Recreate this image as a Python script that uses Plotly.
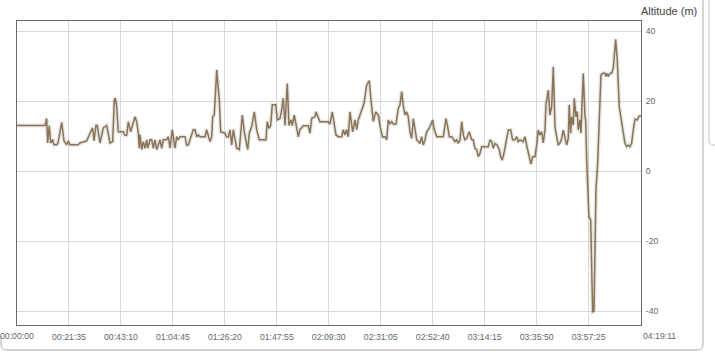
import plotly.graph_objects as go

# ---- data ----
elapsed_s = [
    0, 698, 740, 765, 805, 840, 890, 922, 989, 1022, 1114, 1171, 1239, 1278, 1321, 1520, 1570, 1737,
    1819, 1886, 1919, 1969, 2001, 2068, 2151, 2235, 2318, 2385, 2425, 2450, 2485, 2524, 2649, 2691,
    2734, 2774, 2833, 2873, 2941, 2983, 3023, 3048, 3065, 3108, 3147, 3190, 3232, 3257, 3314, 3357,
    3397, 3439, 3481, 3564, 3606, 3646, 3730, 3770, 3813, 3870, 3937, 3980, 4020, 4062, 4187, 4229,
    4269, 4311, 4393, 4436, 4478, 4518, 4560, 4685, 4727, 4810, 4852, 4877, 4917, 4977, 5041, 5076,
    5183, 5226, 5266, 5308, 5350, 5390, 5433, 5475, 5540, 5615, 5664, 5707, 5749, 5789, 5849, 5914,
    5973, 6038, 6205, 6237, 6280, 6322, 6362, 6447, 6487, 6554, 6596, 6636, 6679, 6736, 6778, 6828,
    6861, 6910, 6970, 7010, 7052, 7135, 7259, 7302, 7344, 7426, 7451, 7508, 7551, 7758, 7800, 7857,
    7907, 7949, 8007, 8092, 8131, 8174, 8216, 8256, 8298, 8366, 8423, 8465, 8505, 8548, 8590, 8647,
    8715, 8779, 8822, 8879, 8939, 9004, 9046, 9113, 9171, 9213, 9253, 9295, 9338, 9378, 9445, 9502,
    9544, 9587, 9627, 9669, 9711, 9751, 9794, 9836, 9876, 9918, 9961, 10000, 10043, 10085, 10125,
    10167, 10210, 10274, 10309, 10359, 10392, 10459, 10623, 10691, 10733, 10773, 10833, 10873, 10915,
    10957, 10997, 11040, 11082, 11122, 11164, 11207, 11271, 11331, 11371, 11413, 11456, 11496, 11538,
    11580, 11745, 11787, 11829, 11869, 11912, 11969, 12019, 12054, 12094, 12143, 12186, 12243, 12303,
    12353, 12410, 12453, 12492, 12535, 12617, 12659, 12717, 12767, 12809, 12851, 12909, 12951, 12991,
    13033, 13076, 13115, 13158, 13182, 13240, 13282, 13325, 13365, 13407, 13449, 13489, 13532, 13574,
    13614, 13656, 13699, 13738, 13763, 13798, 13823, 13863, 13888, 13930, 13963, 13988, 14030, 14055,
    14087, 14112, 14155, 14172, 14197, 14222, 14254, 14297, 14322, 14346, 14379, 14404, 14429, 14471,
    14511, 14553, 14596, 14653, 14678, 14710, 14735, 14778, 14820, 14860, 14920, 14959, 15009, 15069,
    15109, 15151, 15194, 15234, 15276, 15318, 15358, 15400, 15458, 15500, 15551,
]
altitude_m = [
    13, 13, 15, 8, 13, 8, 9, 7.5, 7.5, 8, 13.9, 8.6, 7.5, 8.6, 7.5, 7.5, 8, 8.6,
    10.8, 12.3, 8.6, 13, 13, 8, 12.3, 13, 8, 8.4, 20.3, 20.8, 18.4, 11.2, 11.2, 10.2,
    10.2, 14.1, 11.2, 13, 15.5, 14.1, 10.8, 6.5, 10.4, 6.1, 8.4, 6.5, 8.9, 6.5, 8.9, 8.9,
    6.5, 8.9, 6.1, 8.9, 6.5, 8.9, 8.9, 9.8, 6.5, 11.8, 6.5, 9.8, 8.9, 9.8, 9.8, 7.4,
    7.4, 8.9, 11.8, 11.8, 9.8, 10.3, 9.8, 9.8, 11.8, 8.4, 9.8, 15.5, 16, 28.9, 20.3, 11.2,
    10.8, 9.7, 9.7, 11.8, 7.4, 11.8, 8.9, 6.5, 6.1, 16, 11.2, 7.9, 6.1, 10.8, 12.7, 16.9,
    11.8, 8.9, 8.9, 14.1, 12.2, 13, 18.9, 18.9, 14.6, 15, 17.4, 20.8, 13, 25, 13, 14.6,
    13, 16, 11.8, 9.8, 11.8, 12.9, 12.9, 10.8, 15, 15.5, 16.9, 15, 14.1, 14.1, 13.4, 16.9,
    13.4, 10.3, 9.8, 9.8, 11.8, 10.3, 11.8, 9.8, 16.9, 11.2, 14.6, 11.8, 14.6, 16, 17.9, 19.3,
    24.6, 25.8, 20.3, 14.1, 16.9, 16, 12.9, 9.7, 9.8, 8.9, 14.6, 13.4, 14.1, 13.4, 13.4, 17.9,
    18.9, 22.7, 18.6, 16, 16.9, 15.5, 11.2, 9.3, 15, 11.8, 8.9, 8.4, 7.9, 9.8, 7.4,
    8.9, 11.2, 12.2, 13, 14.6, 12.2, 9.8, 9.8, 15, 12.7, 9.8, 9.8, 8.9, 8.4,
    8.9, 7.9, 8.9, 14.1, 10.3, 8.9, 9.3, 11.2, 8.9, 8.9, 6.5, 6.1, 4.1, 5,
    6.9, 6.9, 8.9, 8.4, 6.5, 7.9, 7.4, 6.1, 4.1, 3.1, 5.5, 7.9, 11.7, 11.7,
    8.9, 8.9, 9.8, 8.4, 8.9, 8.4, 9.8, 6.5, 4.1, 2, 4.1, 4.1, 7.4, 11.7,
    10.3, 11.2, 8, 11.7, 18.9, 23.1, 16, 18.4, 29.8, 12.7, 9.8, 7.4, 8, 9.3,
    11.7, 9.3, 7.4, 9.3, 18.9, 10.8, 15.5, 13.1, 20.8, 15.5, 17, 11.7, 14.6, 10.8,
    19.3, 27.9, 15.5, 14.6, 3.1, -5.4, -13, -14, -30.2, -40.2, -40, -23.5, -5.4, 2.2,
    17.4, 27.4, 27.9, 27.9, 27, 27.9, 27, 27.9, 27.9, 29.4, 37.6, 31.7, 18.4, 13.6,
    11.1, 7.9, 7, 7.4, 7, 7.9, 11.7, 14.8, 14.6, 15.6, 15.8,
]
tick_step_s = 1295
x_tick_labels = ["00:00:00", "00:21:35", "00:43:10", "01:04:45", "01:26:20", "01:47:55",
                 "02:09:30", "02:31:05", "02:52:40", "03:14:15", "03:35:50", "03:57:25"]
end_label = "04:19:11"
y_ticks = [-40, -20, 0, 20, 40]
y_tick_labels = ["-40", "-20", "0", "20", "40"]
y_title = "Altitude (m)"

# ---- layout geometry (pixels) ----
W, H = 715, 354
L, R, T, B = 17, 74, 21, 29
PW, PH = W - L - R, H - T - B

def px(x):
    return (x - L) / PW

def py(y):
    return (H - B - y) / PH

FONT = "Liberation Sans, Arial, sans-serif"
TXT = "#666666"
FS = 8.7

fig = go.Figure()
fig.add_trace(go.Scatter(x=elapsed_s, y=altitude_m, mode="lines",
                         line=dict(color="rgba(0,0,0,0.10)", width=4),
                         hoverinfo="skip", showlegend=False))
fig.add_trace(go.Scatter(x=elapsed_s, y=altitude_m, mode="lines",
                         line=dict(color="#8b7455", width=1.5),
                         showlegend=False))

tickvals = [i * tick_step_s for i in range(1, len(x_tick_labels))]

fig.update_layout(
    width=W, height=H,
    margin=dict(l=L, r=R, t=T, b=B, pad=0, autoexpand=False),
    paper_bgcolor="white", plot_bgcolor="white",
    font=dict(family=FONT, size=FS, color=TXT),
    xaxis=dict(range=[0, elapsed_s[-1]], tickvals=tickvals, ticktext=x_tick_labels[1:],
               showgrid=True, gridcolor="#d9d9d9", gridwidth=1,
               showline=True, linecolor="#6b6b6b", linewidth=1, mirror=True,
               ticks="outside", ticklen=4, tickcolor="rgba(0,0,0,0)",
               zeroline=False, fixedrange=True),
    yaxis=dict(range=[-44, 42.86], side="right", tickvals=y_ticks, ticktext=y_tick_labels,
               showgrid=True, gridcolor="#d9d9d9", gridwidth=1,
               showline=True, linecolor="#6b6b6b", linewidth=1, mirror=True,
               ticks="outside", ticklen=2, tickcolor="rgba(0,0,0,0)",
               zeroline=False, fixedrange=True),
)

# first and last x labels (first is centred on the left edge, last starts at the right edge)
fig.add_annotation(x=0, y=0, xref="x", yref="paper", text=x_tick_labels[0],
                   showarrow=False, xanchor="center", yanchor="top", yshift=-4,
                   font=dict(family=FONT, size=FS, color=TXT))
fig.add_annotation(x=elapsed_s[-1], y=0, xref="x", yref="paper", text=end_label,
                   showarrow=False, xanchor="left", yanchor="top", yshift=-4,
                   font=dict(family=FONT, size=FS, color=TXT))
fig.add_annotation(x=px(639), y=py(19), xref="paper", yref="paper", text=y_title,
                   showarrow=False, xanchor="left", yanchor="bottom",
                   font=dict(family=FONT, size=11, color="#444444"))

# page panel border (rounded box) around the chart
r = 6
box = (f"M {px(1)},{py(336)} L {px(1)},{py(350 - r)} Q {px(1)},{py(350)} {px(1 + r)},{py(350)} "
       f"L {px(703 - r)},{py(350)} Q {px(703)},{py(350)} {px(703)},{py(350 - r)} "
       f"L {px(703)},{py(-2)}")
fig.add_shape(type="path", path=box, xref="paper", yref="paper",
              line=dict(color="#a8a8a8", width=1))
side = (f"M {px(709)},{py(-2)} L {px(709)},{py(140)} Q {px(709)},{py(145)} {px(714)},{py(145)} "
        f"L {px(716)},{py(145)}")
fig.add_shape(type="path", path=side, xref="paper", yref="paper",
              line=dict(color="#c4c4c4", width=1))

fig.write_html("out.html")
